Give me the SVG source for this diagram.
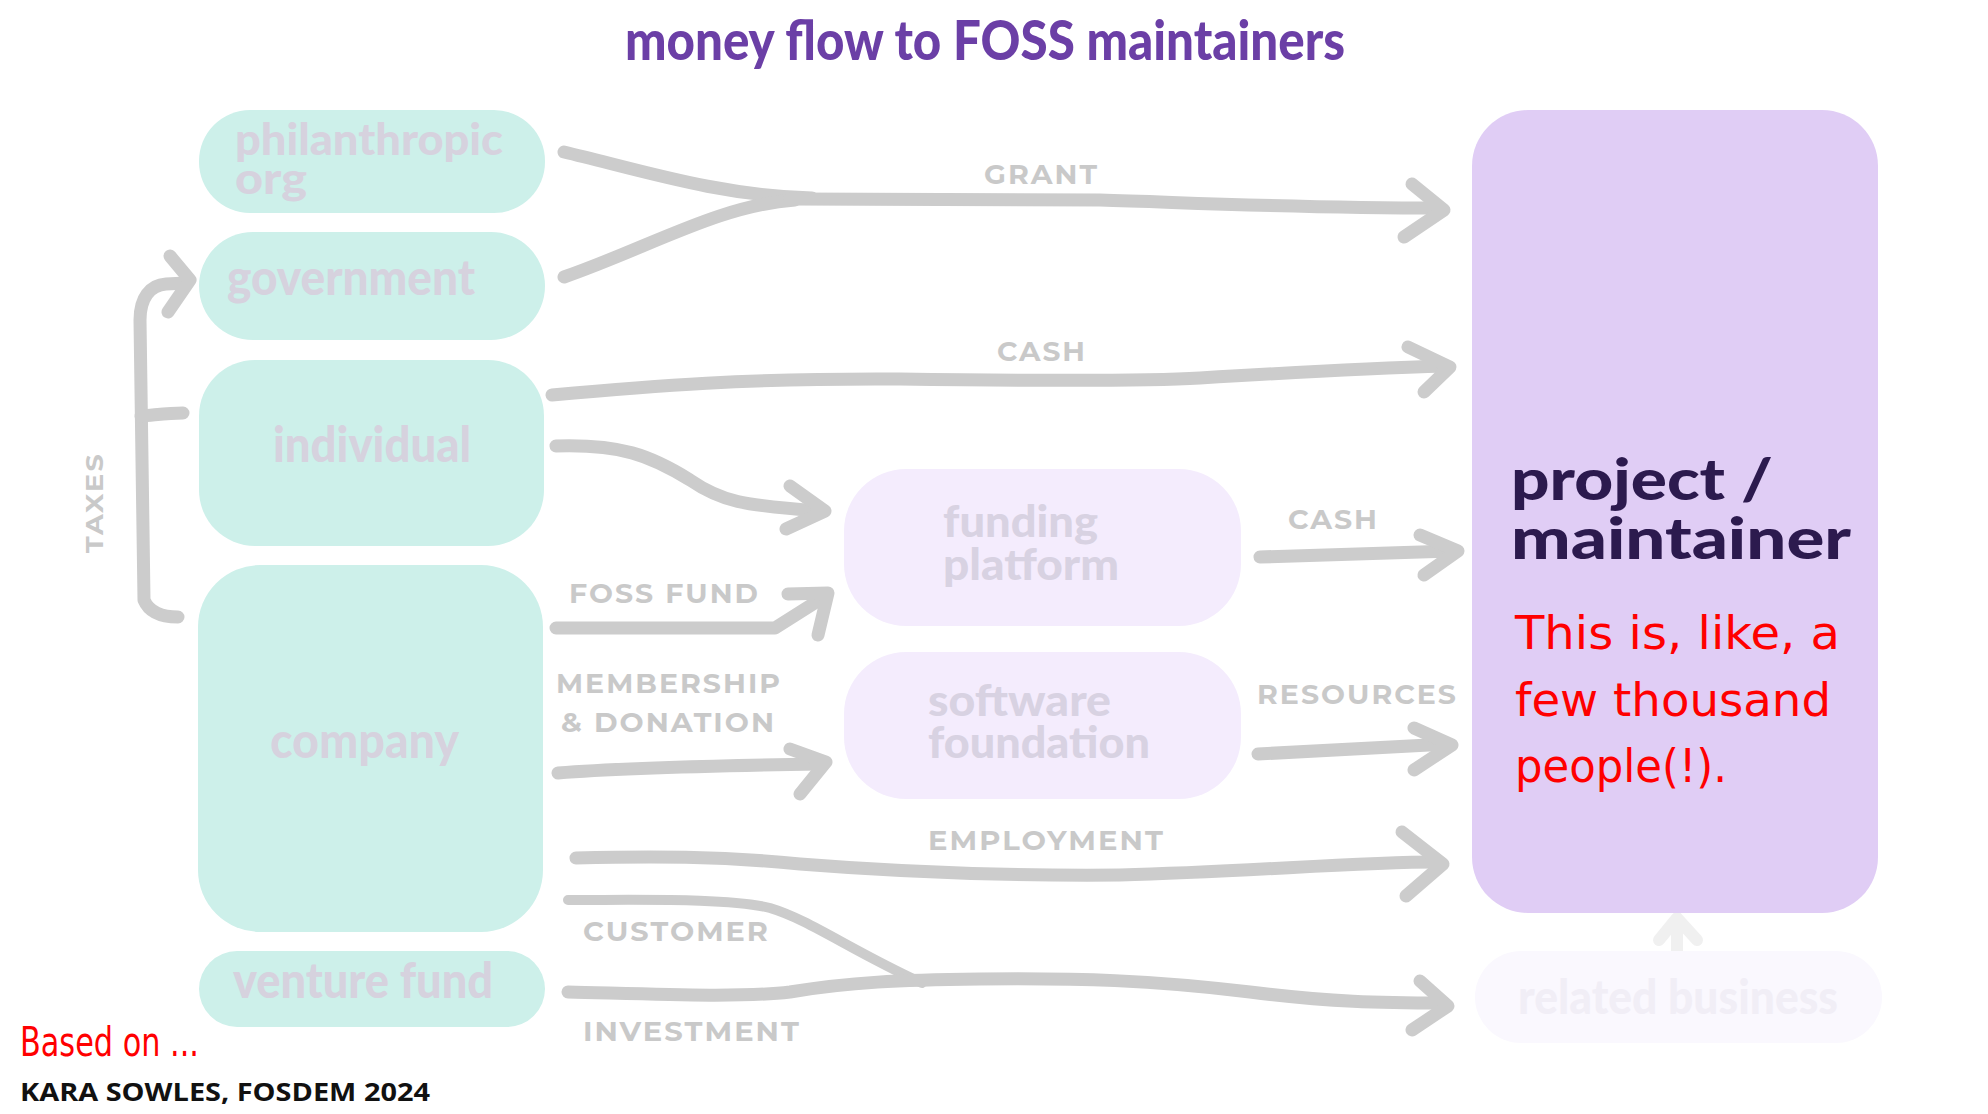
<svg xmlns="http://www.w3.org/2000/svg" width="1988" height="1114" viewBox="0 0 1988 1114">
<style>
.bg{fill:#ffffff}
.teal{fill:#cdf0ea}
.lav{fill:#f4ecfd}
.proj{fill:#e0cdf5}
.rel{fill:#faf8fe}
.nt{font-family:Lato,"Open Sans",sans-serif;font-weight:900;font-size:50px;fill:#d6d2de}
.nt2{font-family:Lato,"Open Sans",sans-serif;font-weight:900;font-size:44px;fill:#d6d2de}
.nl{font-family:Lato,"Open Sans",sans-serif;font-weight:900;font-size:44px;fill:#d8d2e2}
.pt{font-family:Lato,"Open Sans",sans-serif;font-weight:900;font-size:58px;fill:#2c1a4e}
.rt{font-family:Lato,"Open Sans",sans-serif;font-weight:900;font-size:48px;fill:#f1eef6}
.lb{font-family:Montserrat,"Open Sans","Liberation Sans",sans-serif;font-weight:700;font-size:28px;fill:#c9c9c9;letter-spacing:2px}
.c{fill:none;stroke:#cccccc;stroke-width:13;stroke-linecap:round;stroke-linejoin:round}
.cf{fill:none;stroke:#f0f0f0;stroke-width:12;stroke-linecap:round;stroke-linejoin:round}
.red{font-family:"DejaVu Sans",sans-serif;fill:#ff0000}
.title{font-family:Lato,"Open Sans",sans-serif;font-weight:900;font-size:56px;fill:#6b3fa6}
.credit{font-family:"Open Sans","Liberation Sans",sans-serif;font-weight:700;font-size:25px;fill:#111111}
</style>
<rect class="bg" x="0" y="0" width="1988" height="1114"/>
<text class="title" x="625" y="60" textLength="720" lengthAdjust="spacingAndGlyphs">money flow to FOSS maintainers</text>

<g id="connectors">
  <g id="c-grant">
    <path class="c" d="M564,152 C640,170 720,196 812,198"/>
    <path class="c" d="M564,277 C650,247 720,205 795,200"/>
    <path class="c" d="M790,199 L1100,200 C1200,203 1300,208 1440,208"/>
    <path class="c" d="M1412,184 L1444,210 L1404,237"/>
  </g>
  <g id="c-cash1">
    <path class="c" d="M552,395 C650,386 750,378 900,379 C1050,381 1150,381 1200,378 C1300,372 1380,368 1446,366"/>
    <path class="c" d="M1408,347 L1450,367 L1424,392"/>
  </g>
  <g id="c-ind-fund">
    <path class="c" d="M556,446 C620,444 650,455 690,480 C722,502 742,505 820,511"/>
    <path class="c" d="M790,486 L825,511 L786,529"/>
  </g>
  <g id="c-fossfund">
    <path class="c" d="M556,628 L775,628 L824,597"/>
    <path class="c" d="M788,594 L828,593 L818,635"/>
  </g>
  <g id="c-member">
    <path class="c" d="M558,773 C620,768 700,766 820,764"/>
    <path class="c" d="M790,749 L826,762 L800,794"/>
  </g>
  <g id="c-cash2">
    <path class="c" d="M1260,557 C1320,555 1380,553 1452,551"/>
    <path class="c" d="M1420,535 L1458,551 L1424,575"/>
  </g>
  <g id="c-resources">
    <path class="c" d="M1258,754 C1330,750 1390,747 1448,744"/>
    <path class="c" d="M1414,728 L1452,745 L1414,770"/>
  </g>
  <g id="c-employment">
    <path class="c" d="M576,858 C650,856 720,856 800,864 C900,872 1000,876 1120,875 C1250,872 1350,862 1438,862"/>
    <path class="c" d="M1402,832 L1443,864 L1406,896"/>
  </g>
  <g id="c-customer">
    <path class="c" d="M568,900 C650,900 730,898 770,908 C810,920 850,950 922,983" style="stroke-width:10"/>
  </g>
  <g id="c-investment">
    <path class="c" d="M568,992 C650,994 740,998 790,992 C850,982 900,980 980,979 C1080,978 1150,980 1250,992 C1330,1002 1380,1003 1444,1003"/>
    <path class="c" d="M1420,981 L1448,1006 L1412,1030"/>
  </g>
  <g id="c-taxes">
    <path class="c" d="M178,617 C162,617 149,612 144,600 L140,320 C140,298 150,285 166,284 L186,283"/>
    <path class="c" d="M141,416 C155,415 168,413 183,413"/>
    <path class="c" d="M170,256 L190,280 L168,312"/>
  </g>
  <g id="c-related">
    <path class="cf" d="M1677,962 L1677,920"/>
    <path class="cf" d="M1659,940 L1677,918 L1697,940"/>
  </g>
</g>

<g id="labels">
  <text class="lb" x="984" y="184" textLength="115" lengthAdjust="spacingAndGlyphs">GRANT</text>
  <text class="lb" x="997" y="361" textLength="90" lengthAdjust="spacingAndGlyphs">CASH</text>
  <text class="lb" x="1288" y="529" textLength="91" lengthAdjust="spacingAndGlyphs">CASH</text>
  <text class="lb" x="1257" y="704" textLength="201" lengthAdjust="spacingAndGlyphs">RESOURCES</text>
  <text class="lb" x="569" y="603" textLength="191" lengthAdjust="spacingAndGlyphs">FOSS FUND</text>
  <text class="lb" x="556" y="693" textLength="226" lengthAdjust="spacingAndGlyphs">MEMBERSHIP</text>
  <text class="lb" x="561" y="732" textLength="215" lengthAdjust="spacingAndGlyphs">&amp; DONATION</text>
  <text class="lb" x="928" y="850" textLength="237" lengthAdjust="spacingAndGlyphs">EMPLOYMENT</text>
  <text class="lb" x="583" y="941" textLength="187" lengthAdjust="spacingAndGlyphs">CUSTOMER</text>
  <text class="lb" x="583" y="1041" textLength="218" lengthAdjust="spacingAndGlyphs">INVESTMENT</text>
  <text class="lb" x="0" y="0" transform="translate(103,553) rotate(-90)" textLength="101" lengthAdjust="spacingAndGlyphs" style="font-size:24px">TAXES</text>
</g>

<g id="node-philanthropic">
  <rect class="teal" x="199" y="110" width="346" height="103" rx="51"/>
  <text class="nt2" x="235" y="155" textLength="268" lengthAdjust="spacingAndGlyphs">philanthropic</text>
  <text class="nt2" x="235" y="194" textLength="72" lengthAdjust="spacingAndGlyphs">org</text>
</g>
<g id="node-government">
  <rect class="teal" x="199" y="232" width="346" height="108" rx="54"/>
  <text class="nt" x="227" y="295" textLength="248" lengthAdjust="spacingAndGlyphs">government</text>
</g>
<g id="node-individual">
  <rect class="teal" x="199" y="360" width="345" height="186" rx="56"/>
  <text class="nt" x="273" y="462" textLength="198" lengthAdjust="spacingAndGlyphs">individual</text>
</g>
<g id="node-company">
  <rect class="teal" x="198" y="565" width="345" height="367" rx="62"/>
  <text class="nt" x="270" y="758" textLength="189" lengthAdjust="spacingAndGlyphs">company</text>
</g>
<g id="node-venture">
  <rect class="teal" x="199" y="951" width="346" height="76" rx="38"/>
  <text class="nt" x="233" y="998" textLength="260" lengthAdjust="spacingAndGlyphs">venture fund</text>
</g>
<g id="node-funding">
  <rect class="lav" x="844" y="469" width="397" height="157" rx="62"/>
  <text class="nl" x="943" y="537" textLength="155" lengthAdjust="spacingAndGlyphs">funding</text>
  <text class="nl" x="943" y="580" textLength="176" lengthAdjust="spacingAndGlyphs">platform</text>
</g>
<g id="node-software">
  <rect class="lav" x="844" y="652" width="397" height="147" rx="62"/>
  <text class="nl" x="928" y="716" textLength="183" lengthAdjust="spacingAndGlyphs">software</text>
  <text class="nl" x="928" y="758" textLength="222" lengthAdjust="spacingAndGlyphs">foundation</text>
</g>
<g id="node-project">
  <rect class="proj" x="1472" y="110" width="406" height="803" rx="56"/>
  <text class="pt" x="1511" y="500" textLength="262" lengthAdjust="spacingAndGlyphs">project /</text>
  <text class="pt" x="1511" y="559" textLength="340" lengthAdjust="spacingAndGlyphs">maintainer</text>
  <text class="red" x="1515" y="649" font-size="46" textLength="325" lengthAdjust="spacingAndGlyphs">This is, like, a</text>
  <text class="red" x="1515" y="716" font-size="46" textLength="316" lengthAdjust="spacingAndGlyphs">few thousand</text>
  <text class="red" x="1515" y="782" font-size="46" textLength="212" lengthAdjust="spacingAndGlyphs">people(!).</text>
</g>
<g id="node-related">
  <rect class="rel" x="1475" y="951" width="407" height="92" rx="46"/>
  <text class="rt" x="1518" y="1014" textLength="320" lengthAdjust="spacingAndGlyphs">related business</text>
</g>

<g id="credits">
  <text class="red" x="20" y="1056" font-size="40" textLength="179" lengthAdjust="spacingAndGlyphs">Based on ...</text>
  <text class="credit" x="20" y="1101" textLength="410" lengthAdjust="spacingAndGlyphs">KARA SOWLES, FOSDEM 2024</text>
</g>
</svg>
